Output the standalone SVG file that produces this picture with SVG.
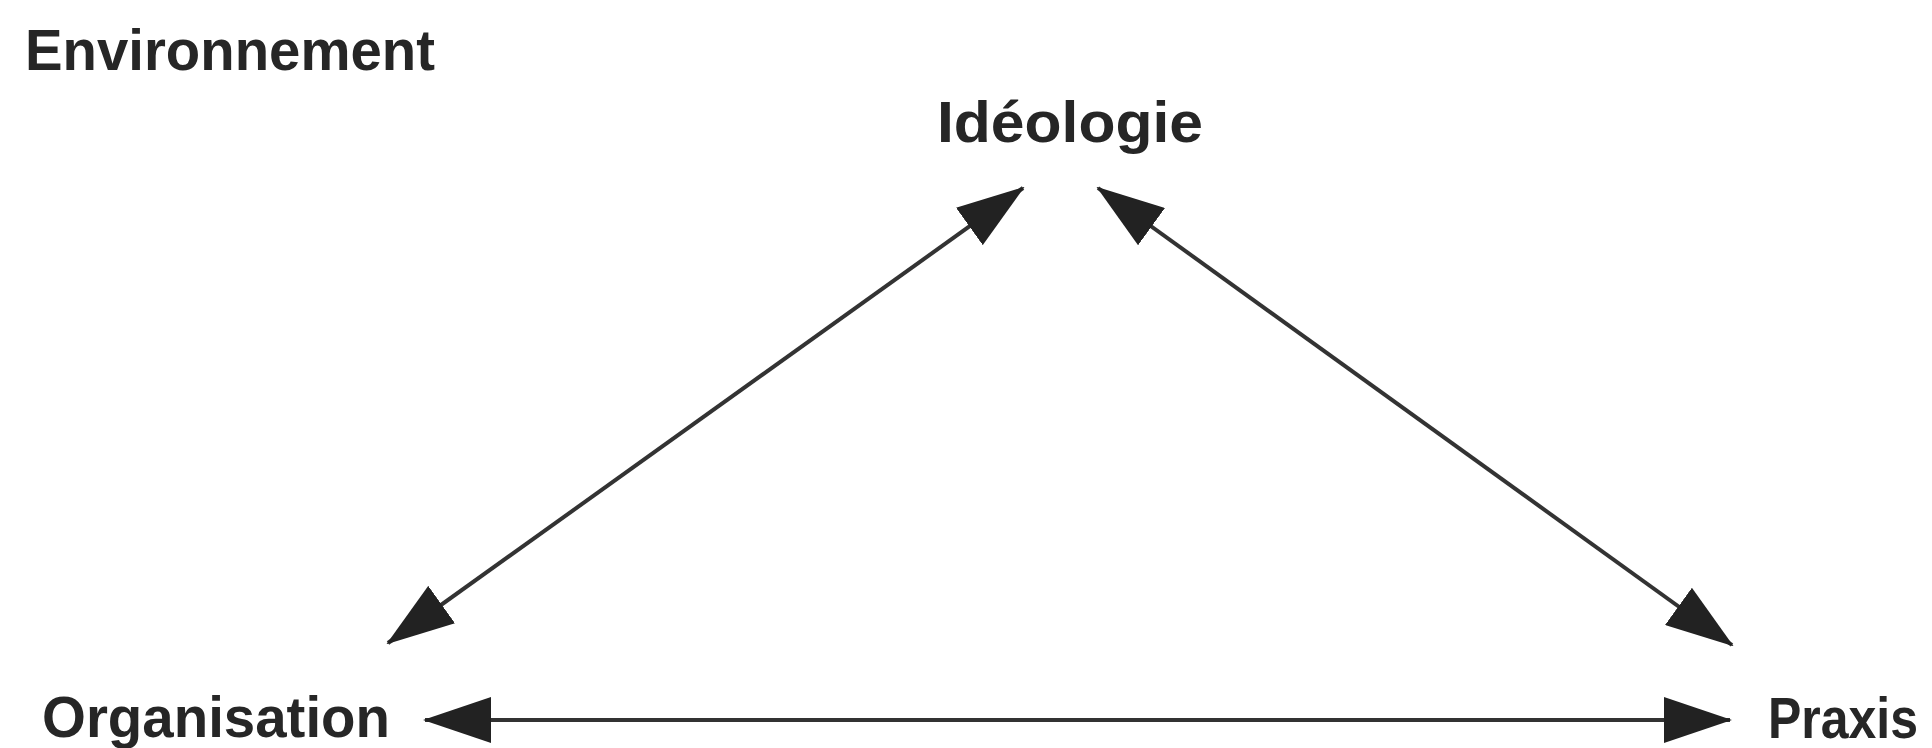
<svg xmlns="http://www.w3.org/2000/svg" width="1932" height="748" viewBox="0 0 1932 748">
  <style>
    .lbl { font-family: "Liberation Sans", Arial, sans-serif; font-weight: bold; font-size: 58px; fill: #262626; }
    .conn { stroke: #333333; stroke-width: 4; fill: none; }
  </style>
  <defs>
    <marker id="ah" viewBox="0 0 68 46" refX="66" refY="23" markerWidth="68" markerHeight="46" markerUnits="userSpaceOnUse" orient="auto-start-reverse">
      <path d="M0,0 L68,23 L0,46 Z" fill="#222222"/>
    </marker>
  </defs>
  <rect width="1932" height="748" fill="#ffffff"/>
  <text x="25" y="70" class="lbl" textLength="410" lengthAdjust="spacingAndGlyphs">Environnement</text>
  <g id="ideologie">
    <text x="937" y="142" class="lbl" textLength="266" lengthAdjust="spacingAndGlyphs">Idéologie</text>
  </g>
  <g id="organisation">
    <text x="42" y="737" class="lbl" textLength="348" lengthAdjust="spacingAndGlyphs">Organisation</text>
  </g>
  <g id="praxis">
    <text x="1768" y="738" class="lbl" textLength="150" lengthAdjust="spacingAndGlyphs">Praxis</text>
  </g>
  <g id="connectors">
    <line class="conn" x1="388" y1="643" x2="1023" y2="188" marker-start="url(#ah)" marker-end="url(#ah)"/>
    <line class="conn" x1="1098" y1="188" x2="1732" y2="645" marker-start="url(#ah)" marker-end="url(#ah)"/>
    <line class="conn" x1="425" y1="720" x2="1730" y2="720" marker-start="url(#ah)" marker-end="url(#ah)"/>
  </g>
</svg>
